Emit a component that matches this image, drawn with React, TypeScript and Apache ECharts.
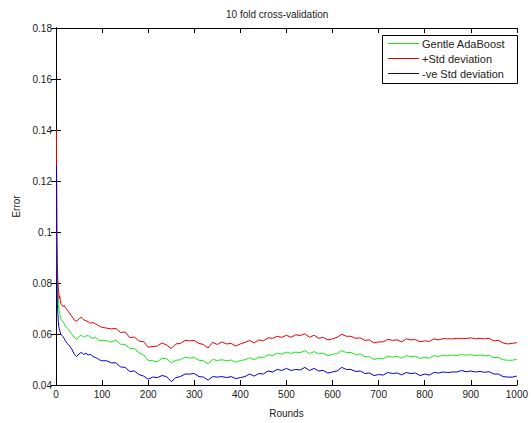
import React, { useEffect, useRef } from "react";
import * as echarts from "echarts";

const titleText = "10 fold cross-validation";
const xName = "Rounds";
const yName = "Error";
const seriesNames = ["Gentle AdaBoost", "+Std deviation", "-ve Std deviation"];

const rounds = [
  1, 2, 3, 4, 5, 6, 7, 8, 10, 12, 15, 18, 20, 25, 30, 35, 40, 45, 50, 55, 60, 65, 70, 75, 80, 85, 90, 95, 100,
  110, 120, 130, 140, 150, 160, 170, 180, 190, 200, 210, 220, 230, 240, 250, 260, 270, 280, 290, 300,
  310, 320, 330, 340, 350, 360, 370, 380, 390, 400, 410, 420, 430, 440, 450, 460, 470, 480, 490, 500,
  510, 520, 530, 540, 550, 560, 570, 580, 590, 600, 610, 620, 630, 640, 650, 660, 670, 680, 690, 700,
  710, 720, 730, 740, 750, 760, 770, 780, 790, 800, 810, 820, 830, 840, 850, 860, 870, 880, 890, 900,
  910, 920, 930, 940, 950, 960, 970, 980, 990, 1000,
];

const gentle = [
  0.1, 0.088, 0.08, 0.076, 0.074, 0.071, 0.069, 0.068, 0.066, 0.0655, 0.0648, 0.064, 0.0632, 0.0622, 0.061, 0.0598, 0.0585, 0.0578, 0.059, 0.0596, 0.0588, 0.0592, 0.0594, 0.0586, 0.0583, 0.0588, 0.058, 0.0574, 0.0576,
  0.0573, 0.0568, 0.0576, 0.056, 0.0559, 0.0544, 0.0543, 0.0526, 0.0518, 0.0497, 0.0495, 0.0491, 0.0505, 0.0503, 0.0487, 0.0497, 0.0499, 0.0509, 0.0505, 0.0508,
  0.0497, 0.0495, 0.0483, 0.05, 0.0496, 0.0499, 0.0495, 0.0498, 0.0489, 0.0496, 0.0499, 0.0507, 0.0499, 0.051, 0.0507, 0.0519, 0.0515, 0.0525, 0.0521, 0.0529,
  0.0524, 0.0529, 0.0527, 0.0535, 0.0523, 0.0531, 0.0522, 0.0525, 0.0515, 0.052, 0.0523, 0.0535, 0.0527, 0.0528, 0.0519, 0.0522, 0.0511, 0.0511, 0.05, 0.0505,
  0.0503, 0.0513, 0.0509, 0.0513, 0.0505, 0.0515, 0.0511, 0.0513, 0.0504, 0.0509, 0.0505, 0.0515, 0.0512, 0.0517, 0.0515, 0.0517, 0.0516, 0.0519, 0.0517, 0.0519,
  0.0515, 0.0518, 0.0514, 0.0517, 0.0507, 0.0509, 0.0499, 0.0497, 0.0497, 0.0501,
];

const plusStd = [
  0.14, 0.096, 0.086, 0.081, 0.078, 0.076, 0.074, 0.075, 0.0722, 0.0716, 0.0708, 0.0712, 0.0704, 0.0692, 0.068, 0.0668, 0.0654, 0.065, 0.066, 0.0666, 0.0656, 0.0652, 0.0648, 0.0642, 0.0646, 0.064, 0.0636, 0.063, 0.0626,
  0.0623, 0.062, 0.0622, 0.0606, 0.0608, 0.0586, 0.0588, 0.0572, 0.057, 0.0548, 0.0551, 0.0553, 0.0565, 0.0557, 0.0543, 0.0561, 0.0563, 0.0575, 0.0573, 0.0575,
  0.0563, 0.0559, 0.0545, 0.0567, 0.0559, 0.0569, 0.0561, 0.0563, 0.0553, 0.0561, 0.0567, 0.0575, 0.0565, 0.0577, 0.0573, 0.0585, 0.0583, 0.0591, 0.0587, 0.0595,
  0.0587, 0.0597, 0.0594, 0.0601, 0.0587, 0.0595, 0.0583, 0.0587, 0.0577, 0.0581, 0.0587, 0.0599, 0.0591, 0.0591, 0.0583, 0.0585, 0.0575, 0.0577, 0.0565, 0.0569,
  0.0569, 0.0579, 0.0575, 0.0577, 0.0569, 0.0581, 0.0577, 0.0578, 0.0569, 0.0573, 0.0571, 0.0581, 0.0577, 0.0582, 0.0581, 0.0581, 0.0583, 0.0583, 0.0582, 0.0585,
  0.0581, 0.0583, 0.0581, 0.0583, 0.0573, 0.0575, 0.0565, 0.0561, 0.0563, 0.0566,
];

const minusStd = [
  0.126, 0.08, 0.072, 0.068, 0.065, 0.063, 0.062, 0.0615, 0.06, 0.0596, 0.059, 0.0582, 0.0574, 0.0562, 0.0552, 0.0538, 0.052, 0.0512, 0.0522, 0.0528, 0.052, 0.0524, 0.0518, 0.052, 0.0512, 0.0508, 0.0504, 0.0498, 0.0495,
  0.0495, 0.0487, 0.0487, 0.0471, 0.0469, 0.0453, 0.0455, 0.0441, 0.0435, 0.0423, 0.0431, 0.0429, 0.0437, 0.0433, 0.0413, 0.0429, 0.0433, 0.0443, 0.0443, 0.0445,
  0.0433, 0.0431, 0.0419, 0.0433, 0.0431, 0.0433, 0.0429, 0.0433, 0.0425, 0.0429, 0.0433, 0.0443, 0.0435, 0.0445, 0.0443, 0.0455, 0.0451, 0.0461, 0.0457, 0.0465,
  0.0457, 0.0461, 0.0459, 0.0469, 0.0457, 0.0465, 0.0455, 0.0457, 0.0447, 0.0451, 0.0455, 0.0469, 0.0461, 0.0461, 0.0453, 0.0455, 0.0445, 0.0447, 0.0437, 0.0441,
  0.0439, 0.0449, 0.0445, 0.0447, 0.044, 0.0449, 0.0445, 0.0447, 0.0437, 0.0443, 0.0439, 0.0449, 0.0447, 0.0451, 0.0449, 0.0451, 0.0451, 0.0457, 0.0452, 0.0455,
  0.0451, 0.0453, 0.045, 0.0452, 0.0443, 0.0443, 0.0433, 0.0431, 0.0431, 0.0435,
];

const xMin = 0;
const xMax = 1000;
const xStep = 100;
const yMin = 0.04;
const yMax = 0.18;
const yStep = 0.02;

const colors = ["#18e818", "#e80000", "#0000d8"];
const FONT = "'Liberation Sans', Arial, sans-serif";

export default function App() {
  const ref = useRef<HTMLDivElement>(null);
  useEffect(() => {
    document.body.style.margin = "0";
    const chart = echarts.init(ref.current!, null, { renderer: "svg" });
    const mk = (vals: number[]) => rounds.map((r, i) => [r, vals[i]]);
    const tick = { show: true, inside: true, length: 5, lineStyle: { color: "#000", width: 1 } };
    const line = { show: true, lineStyle: { color: "#000", width: 1 } };
    const lab = { fontFamily: FONT, fontSize: 10, color: "#222" };
    const legendRows = [43.5, 58.5, 73.5];
    const legendGraphics: any[] = [
      {
        type: "rect",
        shape: { x: 382.5, y: 35.5, width: 135, height: 48 },
        style: { fill: "#fff", stroke: "#000", lineWidth: 1 },
        z: 100,
      },
    ];
    seriesNames.forEach((n, i) => {
      legendGraphics.push({
        type: "line",
        shape: { x1: 388, y1: legendRows[i], x2: 419, y2: legendRows[i] },
        style: { stroke: colors[i], lineWidth: 1 },
        z: 101,
      });
      legendGraphics.push({
        type: "text",
        x: 422,
        y: legendRows[i],
        style: {
          text: n,
          font: `11px ${FONT}`,
          fill: "#222",
          verticalAlign: "middle",
          align: "left",
        },
        z: 101,
      });
    });
    chart.setOption({
      animation: false,
      backgroundColor: "#fff",
      grid: { left: 56, right: 12, top: 28, bottom: 29, containLabel: false },
      graphic: [
        {
          type: "text",
          left: 279 - 53,
          top: 9,
          style: { text: titleText, font: `10px ${FONT}`, fill: "#222" },
        },
        ...legendGraphics,
      ],
      xAxis: [
        {
          type: "value",
          min: xMin,
          max: xMax,
          interval: xStep,
          name: xName,
          nameLocation: "middle",
          nameGap: 23,
          nameTextStyle: { fontFamily: FONT, fontSize: 10, color: "#222" },
          axisLine: line,
          axisTick: tick,
          axisLabel: { ...lab, margin: 4, formatter: (v: number) => String(v) },
          splitLine: { show: false },
        },
        {
          type: "value",
          position: "top",
          min: xMin,
          max: xMax,
          interval: xStep,
          axisLine: line,
          axisTick: tick,
          axisLabel: { show: false },
          splitLine: { show: false },
        },
      ],
      yAxis: [
        {
          type: "value",
          min: yMin,
          max: yMax,
          interval: yStep,
          name: yName,
          nameLocation: "middle",
          nameGap: 33,
          nameTextStyle: { fontFamily: FONT, fontSize: 10, color: "#222" },
          axisLine: line,
          axisTick: tick,
          axisLabel: {
            ...lab,
            margin: 4,
            formatter: (v: number) => String(parseFloat(v.toFixed(2))),
          },
          splitLine: { show: false },
        },
        {
          type: "value",
          position: "right",
          min: yMin,
          max: yMax,
          interval: yStep,
          axisLine: line,
          axisTick: tick,
          axisLabel: { show: false },
          splitLine: { show: false },
        },
      ],
      series: [
        { name: seriesNames[0], data: mk(gentle), color: colors[0] },
        { name: seriesNames[1], data: mk(plusStd), color: colors[1] },
        { name: seriesNames[2], data: mk(minusStd), color: colors[2] },
      ].map((s) => ({
        ...s,
        type: "line",
        symbol: "none",
        showSymbol: false,
        xAxisIndex: 0,
        yAxisIndex: 0,
        lineStyle: { width: 1, color: s.color },
        itemStyle: { color: s.color },
      })),
    });
    return () => chart.dispose();
  }, []);
  return (
    <div
      ref={ref}
      style={{ position: "fixed", left: 0, top: 0, width: 531, height: 423 }}
    />
  );
}
